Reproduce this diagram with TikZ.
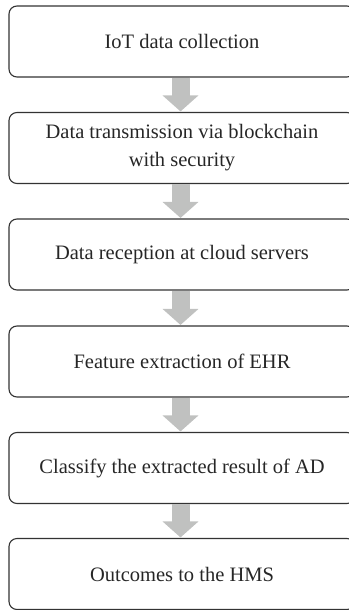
\documentclass[tikz,border=0pt]{standalone}
\usepackage{fontspec}
\setmainfont{Liberation Serif}
\usetikzlibrary{arrows.meta}
\definecolor{arrowgray}{HTML}{C0C1C0}
\definecolor{boxline}{HTML}{333333}
\begin{document}
\begin{tikzpicture}[x=1pt,y=-1pt,
  stepbox/.style={draw=boxline, line width=1.1pt, rounded corners=8pt, minimum width=346pt, minimum height=71pt, inner sep=0pt, align=center, font=\fontsize{20.5}{28}\selectfont, text=black!85},
  flow/.style={draw=arrowgray, line width=18pt, -{Triangle[width=35pt,length=16pt]}, shorten >=0.5pt}]
\useasboundingbox (0,0) rectangle (348,610);
\node[stepbox] (b1) at (182,41.5) {IoT data collection};
\node[stepbox] (b2) at (182,148) {Data transmission via blockchain\\with security};
\node[stepbox] (b3) at (182,254.5) {Data reception at cloud servers};
\node[stepbox] (b4) at (182,361.5) {Feature extraction of EHR};
\node[stepbox] (b5) at (182,468) {Classify the extracted result of AD};
\node[stepbox] (b6) at (182,574) {Outcomes to the HMS};
\draw[flow] ([xshift=-1.5pt]b1.south) -- ([xshift=-1.5pt]b2.north);
\draw[flow] ([xshift=-1.5pt]b2.south) -- ([xshift=-1.5pt]b3.north);
\draw[flow] ([xshift=-1.5pt]b3.south) -- ([xshift=-1.5pt]b4.north);
\draw[flow] ([xshift=-1.5pt]b4.south) -- ([xshift=-1.5pt]b5.north);
\draw[flow] ([xshift=-1.5pt]b5.south) -- ([xshift=-1.5pt]b6.north);
\end{tikzpicture}
\end{document}
